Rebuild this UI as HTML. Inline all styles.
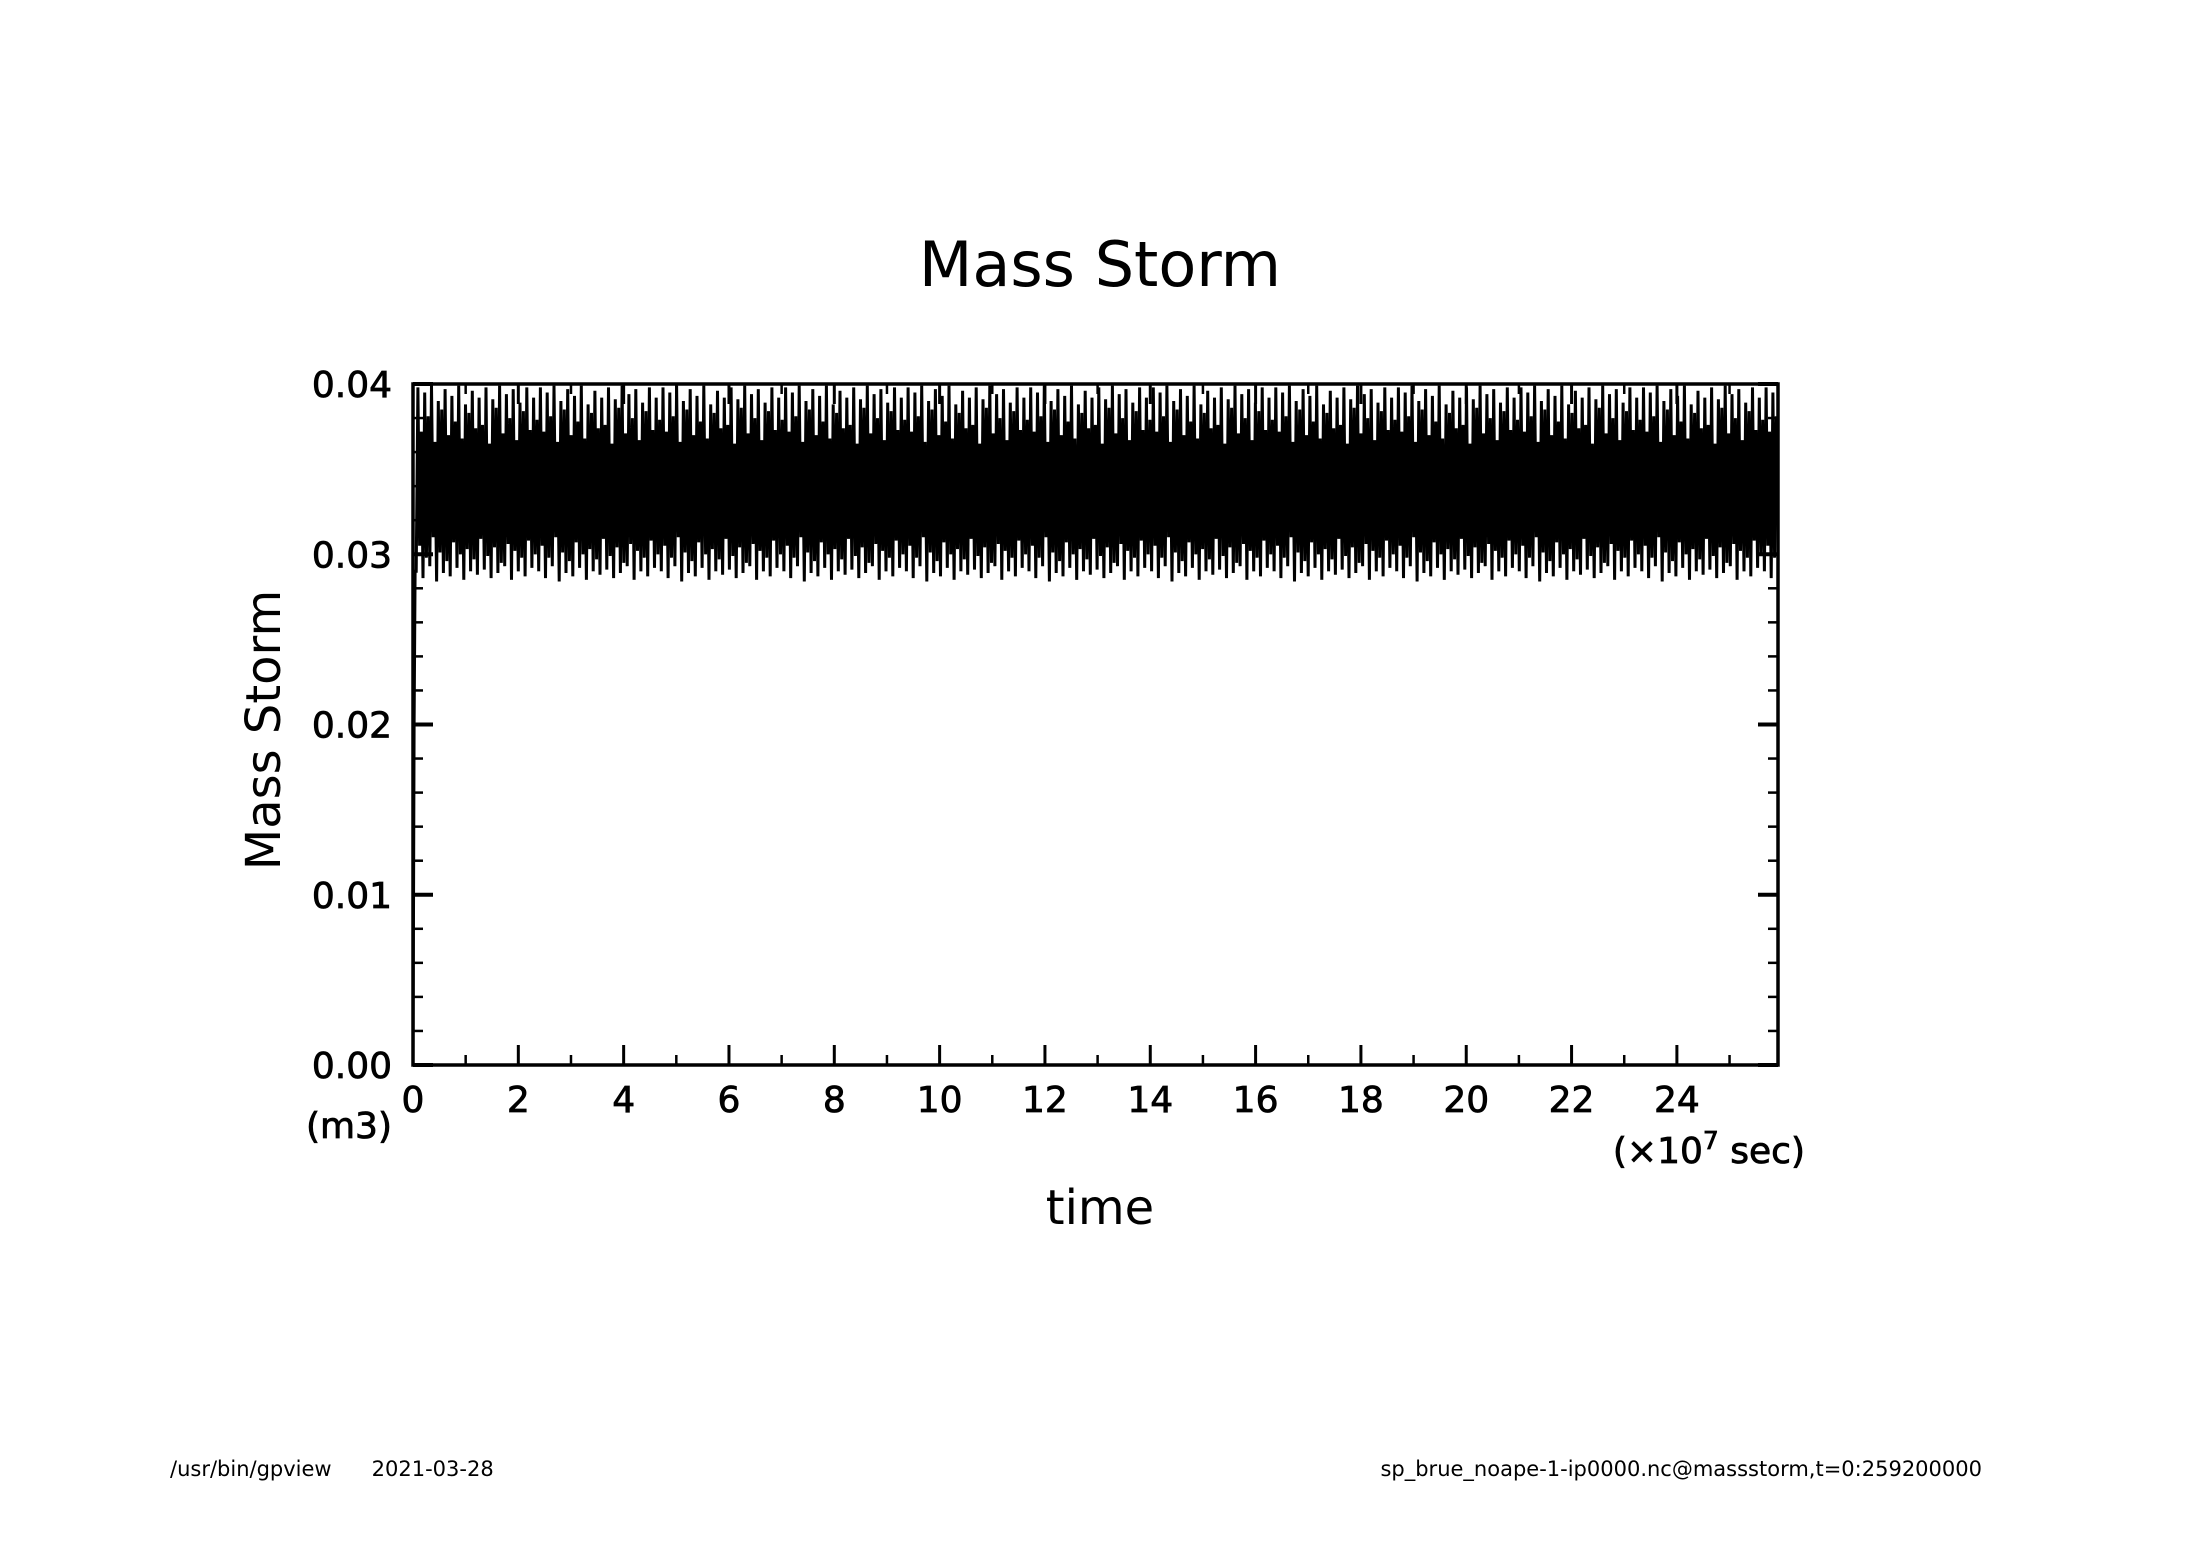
<!DOCTYPE html>
<html><head><meta charset="utf-8"><style>
html,body{margin:0;padding:0;background:#fff}
svg{display:block;font-family:"DejaVu Sans","Liberation Sans",sans-serif}
</style></head><body>
<svg id="chart" width="2188" height="1546" viewBox="0 0 2188 1546" xmlns="http://www.w3.org/2000/svg">
<rect width="2188" height="1546" fill="#fff"/>
<text x="1100" y="286" font-size="62" text-anchor="middle">Mass Storm</text>
<g id="plot"></g>
<text transform="translate(280,730) rotate(-90)" font-size="48" text-anchor="middle">Mass Storm</text>
<text x="392" y="1138" font-size="36" text-anchor="end" stroke="#000" stroke-width="0.8">(m3)</text>
<text x="1805" y="1163" font-size="36" text-anchor="end" stroke="#000" stroke-width="0.8">(×10<tspan dy="-14" font-size="25">7</tspan><tspan dy="14"> sec)</tspan></text>
<text x="1100" y="1224" font-size="48" text-anchor="middle">time</text>
<text x="170" y="1476" font-size="21" xml:space="preserve">/usr/bin/gpview      2021-03-28</text>
<text x="1982" y="1476" font-size="21" text-anchor="end">sp_brue_noape-1-ip0000.nc@massstorm,t=0:259200000</text>
</svg>
<script>
const xTicks=[0,2,4,6,8,10,12,14,16,18,20,22,24];
const yTicks=[0.00,0.01,0.02,0.03,0.04];
const yTickLabels=["0.00","0.01","0.02","0.03","0.04"];
const tEnd=25.92;
const startValues=[0.0,0.0200,0.0290];
const highs=[398,372,395,381,399,366,390,385,397,370,393,378,399,368,388,383,396,374,392,376,398,365,391,386,399,371,394,380,397,367,389,384,398,373,392,379];
const lows=[290,305,286,298,293,310,284,301,289,296,287,307,292,300,285,303,290,297,288,309,291,299,286,304,289,295,293,306,285,302,290,298,287,308,292,300];
const nCycles=400;

const svg=document.getElementById('chart');
const g=document.getElementById('plot');
const NS="http://www.w3.org/2000/svg";
const X0=413,X1=1778,Y0=1065,Y1=384;
const xs=v=>X0+(v/tEnd)*(X1-X0);
const ys=v=>Y0-(v/0.04)*(Y0-Y1);

let pts=[];
startValues.forEach((v,i)=>pts.push([xs(i*0.02),ys(v)]));
const s0=0.06, step=(tEnd-s0)/nCycles;
for(let i=0;i<nCycles;i++){
  const t=s0+i*step;
  pts.push([xs(t),ys(lows[i%lows.length]/10000)]);
  pts.push([xs(t+step/2),ys(highs[i%highs.length]/10000)]);
}
const line=document.createElementNS(NS,'polyline');


line.setAttribute('points',pts.map(p=>p[0].toFixed(1)+','+p[1].toFixed(1)).join(' '));
line.setAttribute('fill','none');line.setAttribute('stroke','#000');line.setAttribute('stroke-width','3');
g.appendChild(line);

const fr=document.createElementNS(NS,'rect');


fr.setAttribute('x',X0);fr.setAttribute('y',Y1);fr.setAttribute('width',X1-X0);fr.setAttribute('height',Y0-Y1);
fr.setAttribute('fill','none');fr.setAttribute('stroke','#000');fr.setAttribute('stroke-width','3.5');
g.appendChild(fr);

function ln(x1,y1,x2,y2,w,name){
  const l=document.createElementNS(NS,'line');
  
  
  l.setAttribute('x1',x1);l.setAttribute('y1',y1);l.setAttribute('x2',x2);l.setAttribute('y2',y2);
  l.setAttribute('stroke','#000');l.setAttribute('stroke-width',w);g.appendChild(l);
}
function tx(x,y,s,anchor,name){
  const t=document.createElementNS(NS,'text');
  
  
  t.setAttribute('x',x);t.setAttribute('y',y);t.setAttribute('font-size','36');t.setAttribute('text-anchor',anchor);
  t.setAttribute('stroke','#000');t.setAttribute('stroke-width','0.8');
  t.textContent=s;svg.appendChild(t);
}
for(let v=1;v<tEnd;v+=2){const x=xs(v);ln(x,Y0,x,Y0-10,2.5,'x-minor-tick');ln(x,Y1,x,Y1+10,2.5,'x-minor-tick');}
xTicks.forEach(v=>{const x=xs(v);ln(x,Y0,x,Y0-20,3,'x-major-tick');ln(x,Y1,x,Y1+20,3,'x-major-tick');tx(x,1112,String(v),'middle','x-tick-label');});
for(let k=0;k<=20;k++){const v=k*0.002;const y=ys(v);
  if(k%5){ln(X0,y,X0+10,y,2.5,'y-minor-tick');ln(X1,y,X1-10,y,2.5,'y-minor-tick');}}
yTicks.forEach((v,i)=>{const y=ys(v);ln(X0,y,X0+20,y,4,'y-major-tick');ln(X1,y,X1-20,y,4,'y-major-tick');tx(392,y+13,yTickLabels[i],'end','y-tick-label');});
</script>
</body></html>
